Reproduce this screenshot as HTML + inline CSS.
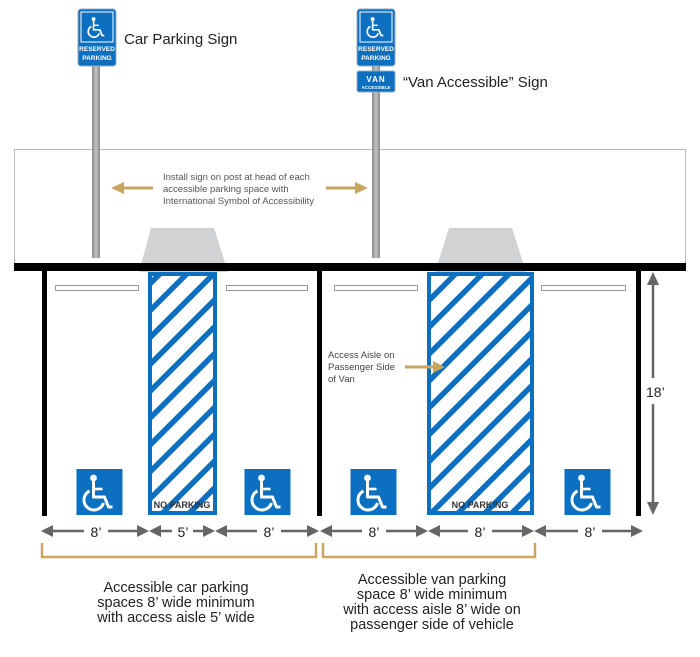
<!DOCTYPE html>
<html><head><meta charset="utf-8"><style>
html,body{margin:0;padding:0;background:#fff;}
svg{display:block;font-family:"Liberation Sans",sans-serif;}
</style></head><body>
<svg width="700" height="657" viewBox="0 0 700 657" xmlns="http://www.w3.org/2000/svg">
<defs>
<pattern id="hatch" patternUnits="userSpaceOnUse" width="19" height="19" patternTransform="rotate(45)">
<rect x="0" y="0" width="5.5" height="19" fill="#0d6fbf"/>
</pattern>
<symbol id="wc" viewBox="0 0 46 46">
<rect width="46" height="46" fill="#0d6fbf"/>
<circle cx="17" cy="9" r="3.4" fill="#fff"/>
<path d="M17 12 V28 H28 L32 38 H36" fill="none" stroke="#fff" stroke-width="3" stroke-linejoin="round"/>
<path d="M17 20 H26" stroke="#fff" stroke-width="2.6"/>
<path d="M13 22 A10 10 0 1 0 27 34" fill="none" stroke="#fff" stroke-width="3"/>
</symbol>
<linearGradient id="pole" x1="0" x2="1"><stop offset="0" stop-color="#8a8a8a"/><stop offset="0.5" stop-color="#c2c2c2"/><stop offset="1" stop-color="#8a8a8a"/></linearGradient>
</defs>

<rect x="14.5" y="149.5" width="671" height="116" fill="#fff" stroke="#b8b8b8" stroke-width="1"/>

<rect x="92" y="64" width="8" height="194" fill="url(#pole)"/>
<rect x="372" y="64" width="8" height="194" fill="url(#pole)"/>

<rect x="78" y="9" width="38" height="57" rx="3" fill="#0d6fbf" stroke="#9ab" stroke-width="1"/>
<rect x="81" y="12" width="32" height="30" fill="none" stroke="#fff" stroke-width="1"/>
<use href="#wc" x="84" y="14" width="26" height="26"/>
<text x="97" y="51" font-size="6.5" font-weight="bold" fill="#fff" text-anchor="middle">RESERVED</text>
<text x="97" y="60" font-size="6.5" font-weight="bold" fill="#fff" text-anchor="middle">PARKING</text>
<rect x="357" y="9" width="38" height="57" rx="3" fill="#0d6fbf" stroke="#9ab" stroke-width="1"/>
<rect x="360" y="12" width="32" height="30" fill="none" stroke="#fff" stroke-width="1"/>
<use href="#wc" x="363" y="14" width="26" height="26"/>
<text x="376" y="51" font-size="6.5" font-weight="bold" fill="#fff" text-anchor="middle">RESERVED</text>
<text x="376" y="60" font-size="6.5" font-weight="bold" fill="#fff" text-anchor="middle">PARKING</text>
<rect x="357" y="71" width="38" height="21" rx="2" fill="#0d6fbf" stroke="#9ab" stroke-width="1"/>
<text x="376" y="82" font-size="8" font-weight="bold" fill="#fff" text-anchor="middle" letter-spacing="1">VAN</text>
<text x="376" y="89" font-size="4.5" font-weight="bold" fill="#fff" text-anchor="middle">ACCESSIBLE</text>

<text x="124" y="44" font-size="15" fill="#222">Car Parking Sign</text>
<text x="403" y="87" font-size="15" fill="#222">“Van Accessible” Sign</text>

<g font-size="9.5" fill="#555">
<text x="163" y="180">Install sign on post at head of each</text>
<text x="163" y="192">accessible parking space with</text>
<text x="163" y="204">International Symbol of Accessibility</text>
</g>
<g fill="#c9a660" stroke="#c9a660">
<line x1="120" y1="188" x2="153" y2="188" stroke-width="3"/>
<polygon points="111,188 124,182 124,194" stroke="none"/>
<line x1="326" y1="188" x2="358" y2="188" stroke-width="3"/>
<polygon points="368,188 355,182 355,194" stroke="none"/>
</g>

<polygon points="151,228 214,228 228,272 139,272" fill="#d1d2d4"/>
<polygon points="449,228 512,228 526,272 435,272" fill="#d1d2d4"/>

<rect x="14" y="263" width="672" height="8" fill="#000"/>
<rect x="42" y="263" width="5" height="253" fill="#000"/>
<rect x="317" y="263" width="5" height="253" fill="#000"/>
<rect x="636" y="263" width="5" height="253" fill="#000"/>

<g fill="#fff" stroke="#999" stroke-width="1">
<rect x="55.5" y="285.5" width="83" height="5"/>
<rect x="226.5" y="285.5" width="81" height="5"/>
<rect x="334.5" y="285.5" width="83" height="5"/>
<rect x="541.5" y="285.5" width="84" height="5"/>
</g>

<rect x="150" y="274" width="65" height="239" fill="url(#hatch)" stroke="#0d6fbf" stroke-width="4"/>
<rect x="429" y="274" width="103" height="239" fill="url(#hatch)" stroke="#0d6fbf" stroke-width="4"/>
<text x="182" y="508" font-size="9" font-weight="bold" fill="#333" text-anchor="middle">NO PARKING</text>
<text x="480" y="508" font-size="9" font-weight="bold" fill="#333" text-anchor="middle">NO PARKING</text>

<use href="#wc" x="76" y="469" width="47" height="46"/>
<use href="#wc" x="244" y="469" width="47" height="46"/>
<use href="#wc" x="350" y="469" width="47" height="46"/>
<use href="#wc" x="564" y="469" width="47" height="46"/>

<g font-size="9.5" fill="#444">
<text x="328" y="358">Access Aisle on</text>
<text x="328" y="370">Passenger Side</text>
<text x="328" y="382">of Van</text>
</g>
<line x1="405" y1="367" x2="435" y2="367" stroke="#c9a660" stroke-width="3"/>
<polygon points="445,367 433,361 433,373" fill="#c9a660"/>

<g fill="#666" stroke="#666">
<line x1="653" y1="282" x2="653" y2="378" stroke-width="2.5"/>
<line x1="653" y1="404" x2="653" y2="505" stroke-width="2.5"/>
<polygon points="653,272 647,285 659,285" stroke="none"/>
<polygon points="653,515 647,502 659,502" stroke="none"/>
</g>
<text x="646" y="397" font-size="14" fill="#222">18’</text>

<g fill="#666" stroke="#666" stroke-width="2.5">
<line x1="50" y1="531" x2="84" y2="531"/><line x1="108" y1="531" x2="140" y2="531"/>
<polygon points="41,531 53,525 53,537" stroke="none"/><polygon points="149,531 137,525 137,537" stroke="none"/>
<line x1="157" y1="531" x2="172" y2="531"/><line x1="193" y1="531" x2="206" y2="531"/>
<polygon points="149,531 161,525 161,537" stroke="none"/><polygon points="215,531 203,525 203,537" stroke="none"/>
<line x1="223" y1="531" x2="257" y2="531"/><line x1="281" y1="531" x2="310" y2="531"/>
<polygon points="215,531 227,525 227,537" stroke="none"/><polygon points="319,531 307,525 307,537" stroke="none"/>
<line x1="328" y1="531" x2="362" y2="531"/><line x1="386" y1="531" x2="419" y2="531"/>
<polygon points="320,531 332,525 332,537" stroke="none"/><polygon points="428,531 416,525 416,537" stroke="none"/>
<line x1="436" y1="531" x2="468" y2="531"/><line x1="492" y1="531" x2="525" y2="531"/>
<polygon points="428,531 440,525 440,537" stroke="none"/><polygon points="534,531 522,525 522,537" stroke="none"/>
<line x1="542" y1="531" x2="578" y2="531"/><line x1="602" y1="531" x2="634" y2="531"/>
<polygon points="534,531 546,525 546,537" stroke="none"/><polygon points="643,531 631,525 631,537" stroke="none"/>
</g>
<g font-size="14" fill="#222" text-anchor="middle">
<text x="96" y="537">8’</text>
<text x="183" y="537">5’</text>
<text x="269" y="537">8’</text>
<text x="374" y="537">8’</text>
<text x="480" y="537">8’</text>
<text x="590" y="537">8’</text>
</g>

<polyline points="42,543 42,557 316,557 316,543" fill="none" stroke="#c9a660" stroke-width="2.5"/>
<polyline points="323,543 323,557 535,557 535,543" fill="none" stroke="#c9a660" stroke-width="2.5"/>

<g font-size="14.5" fill="#222" text-anchor="middle">
<text x="176" y="592">Accessible car parking</text>
<text x="176" y="607">spaces 8’ wide minimum</text>
<text x="176" y="622">with access aisle 5’ wide</text>
<text x="432" y="584">Accessible van parking</text>
<text x="432" y="599">space 8’ wide minimum</text>
<text x="432" y="614">with access aisle 8’ wide on</text>
<text x="432" y="629">passenger side of vehicle</text>
</g>
</svg>
</body></html>
